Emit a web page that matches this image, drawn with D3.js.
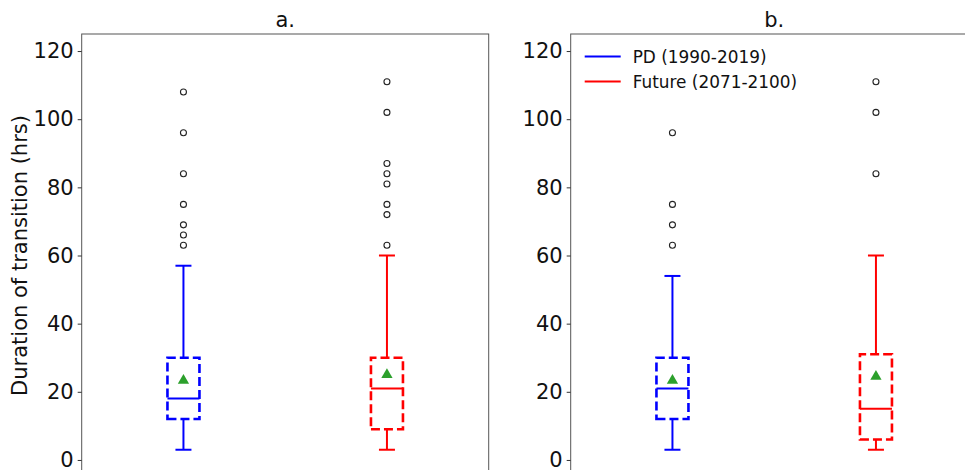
<!DOCTYPE html>
<html>
<head>
<meta charset="utf-8">
<script src="https://cdn.jsdelivr.net/npm/d3@7"></script>
<style>
  html, body { margin: 0; padding: 0; background: #fff; }
  svg { display: block; font-family: "DejaVu Sans", sans-serif; }
</style>
</head>
<body>
<div id="chart"></div>
<script>
// Box statistics (hours)
const panels = ['a.', 'b.'];
const seriesNames = ['PD (1990-2019)', 'Future (2071-2100)'];
const seriesColors = ['#0000ff', '#ff0000'];

// [whiskerLow, q1, median, q3, whiskerHigh, mean]
const statsA = [
  [3, 12, 18, 30, 57, 23.3],
  [3, 9, 21, 30, 60, 25]
];
const statsB = [
  [3, 12, 21, 30, 54, 23.3],
  [3, 6, 15, 31, 60, 24.5]
];
const outliersA = [
  [63, 66, 69, 75, 84, 96, 108],
  [63, 72, 75, 81, 84, 87, 102, 111]
];
const outliersB = [
  [63, 69, 75, 96],
  [84, 102, 111]
];
const yTicks = [0, 20, 40, 60, 80, 100, 120];

const W = 965, H = 470;
const svg = d3.select('#chart').append('svg')
  .attr('width', W).attr('height', H);

const y = d3.scaleLinear().domain([-5, 125]).range([477, 34]);

const panelLefts = [81.7, 570.7];
const panelWidth = 407;
const allStats = [statsA, statsB];
const allOutliers = [outliersA, outliersB];

panels.forEach((title, pi) => {
  const x = d3.scaleLinear().domain([0.5, 2.5])
    .range([panelLefts[pi], panelLefts[pi] + panelWidth]);
  const g = svg.append('g');

  // Axes frame
  g.append('rect')
    .attr('x', x(0.5)).attr('y', y(125))
    .attr('width', x(2.5) - x(0.5)).attr('height', y(-5) - y(125))
    .attr('fill', 'none').attr('stroke', '#555').attr('stroke-width', 1);

  // y axis
  const ax = g.append('g')
    .attr('transform', `translate(${x(0.5)},0)`)
    .call(d3.axisLeft(y).tickValues(yTicks).tickSize(4).tickPadding(4));
  ax.select('.domain').remove();
  ax.selectAll('.tick line').attr('stroke', '#333');
  ax.selectAll('.tick text')
    .attr('font-size', 21).attr('fill', '#111')
    .attr('font-family', '"DejaVu Sans", sans-serif');

  // title
  g.append('text')
    .attr('x', (x(0.5) + x(2.5)) / 2).attr('y', 27)
    .attr('text-anchor', 'middle')
    .attr('font-size', 21).attr('fill', '#111')
    .text(title);

  const hw = 16, cap = 8;
  allStats[pi].forEach((s, si) => {
    const cx = x(si + 1);
    const col = seriesColors[si];
    const [lo, q1, med, q3, hi, mean] = s;

    // whiskers
    g.append('line').attr('x1', cx).attr('x2', cx)
      .attr('y1', y(lo)).attr('y2', y(q1))
      .attr('stroke', col).attr('stroke-width', 2);
    g.append('line').attr('x1', cx).attr('x2', cx)
      .attr('y1', y(q3)).attr('y2', y(hi))
      .attr('stroke', col).attr('stroke-width', 2);
    // caps
    [lo, hi].forEach(v => {
      g.append('line').attr('x1', cx - cap).attr('x2', cx + cap)
        .attr('y1', y(v)).attr('y2', y(v))
        .attr('stroke', col).attr('stroke-width', 2);
    });
    // box (dashed)
    const p = d3.path();
    p.moveTo(cx - hw, y(q1));
    p.lineTo(cx + hw, y(q1));
    p.lineTo(cx + hw, y(q3));
    p.lineTo(cx - hw, y(q3));
    p.closePath();
    g.append('path').attr('d', p.toString())
      .attr('fill', 'none').attr('stroke', col)
      .attr('stroke-width', 2.6).attr('stroke-dasharray', '9,4');
    // median
    g.append('line').attr('x1', cx - hw).attr('x2', cx + hw)
      .attr('y1', y(med)).attr('y2', y(med))
      .attr('stroke', col).attr('stroke-width', 2);
    // mean
    g.append('path')
      .attr('d', d3.symbol().type(d3.symbolTriangle).size(55)())
      .attr('transform', `translate(${cx},${y(mean)})`)
      .attr('fill', '#2ca02c');
    // outliers
    g.selectAll(null).data(allOutliers[pi][si]).enter()
      .append('circle')
      .attr('cx', cx).attr('cy', d => y(d)).attr('r', 3)
      .attr('fill', 'none').attr('stroke', '#222').attr('stroke-width', 1.1);
  });

  // legend on panel b
  if (pi === 1) {
    const lg = g.append('g');
    seriesNames.forEach((name, i) => {
      const ly = 56.5 + i * 25;
      lg.append('line')
        .attr('x1', x(0.5) + 14).attr('x2', x(0.5) + 50)
        .attr('y1', ly).attr('y2', ly)
        .attr('stroke', seriesColors[i]).attr('stroke-width', 2);
      lg.append('text')
        .attr('x', x(0.5) + 62).attr('y', ly + 6)
        .attr('font-size', 16.9).attr('fill', '#111')
        .text(name);
    });
  }
});

// y label
svg.append('text')
  .attr('transform', `translate(27,${(y(125) + y(-5)) / 2}) rotate(-90)`)
  .attr('text-anchor', 'middle')
  .attr('font-size', 21).attr('fill', '#111')
  .text('Duration of transition (hrs)');
</script>
</body>
</html>
